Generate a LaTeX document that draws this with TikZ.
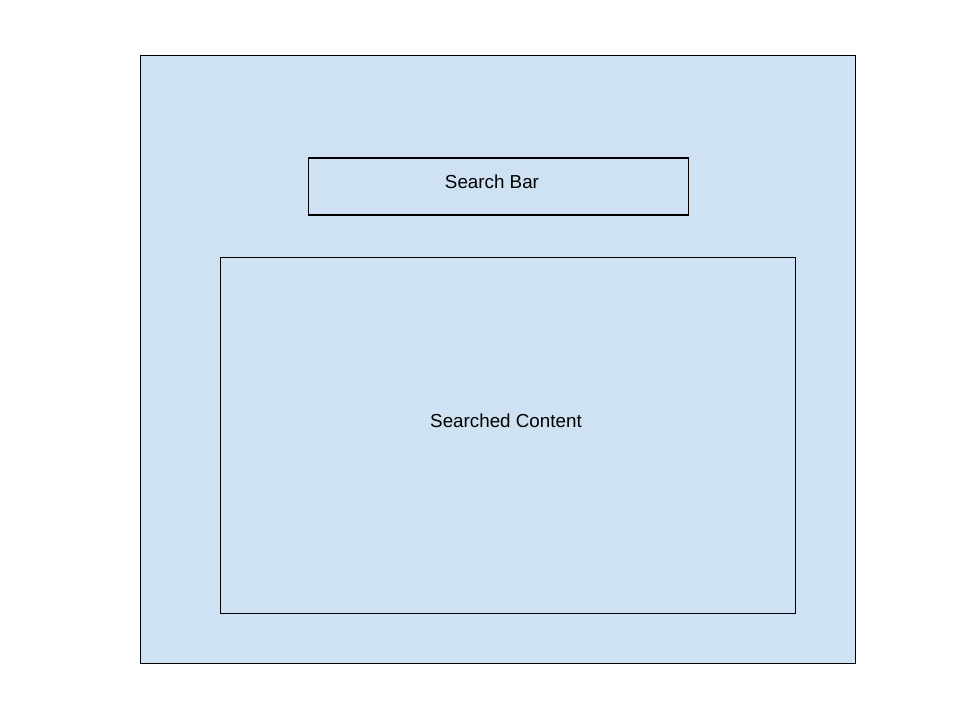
\documentclass[tikz,border=0pt]{standalone}
\usepackage{fontspec}
\setmainfont{Liberation Sans}
\usepackage{xcolor}
\usetikzlibrary{positioning}
\definecolor{panelbg}{HTML}{CFE2F3}
\definecolor{edge}{HTML}{000000}
\tikzset{
  panel/.style={draw=edge, fill=panelbg, line width=0.6pt, inner sep=0pt},
  lab/.style={text=black, font=\fontsize{10.7}{13}\selectfont, inner sep=0pt},
}
\begin{document}
\begin{tikzpicture}[x=0.02cm, y=-0.02cm]
  \useasboundingbox[fill=white] (0,0) rectangle (960,720);
  % page frame
  \node[panel, minimum width=14.32cm, minimum height=12.18cm] (page) at (498,359.5) {};
  % search bar
  \node[panel, minimum width=7.62cm, minimum height=1.14cm] (bar) at (498.5,186.5) {};
  \node[lab] (barlab) at (492,182) {Search Bar};
  % results area
  \node[panel, minimum width=11.52cm, minimum height=7.14cm] (content) at (508,435.5) {};
  \node[lab] (contentlab) at (506,421) {Searched Content};
\end{tikzpicture}
\end{document}
